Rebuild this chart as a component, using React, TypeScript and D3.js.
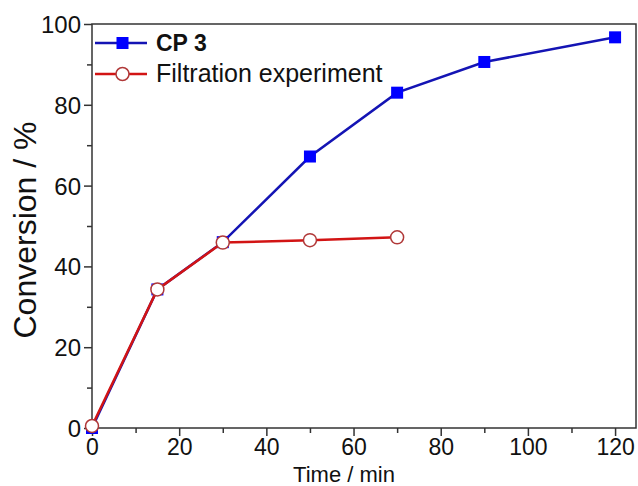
import React, { useEffect, useRef } from 'react';
import * as d3 from 'd3';

const times = [0, 15, 30, 50, 70, 90, 120];
const cp3 = [0, 34.3, 46, 67.2, 83, 90.6, 96.7];
const filtrationTimes = [0, 15, 30, 50, 70];
const filtration = [0.5, 34.3, 45.9, 46.5, 47.2];
const xTicks = [0, 20, 40, 60, 80, 100, 120];
const yTicks = [0, 20, 40, 60, 80, 100];

const W = 638, H = 486;
const m = { top: 24, right: 2, bottom: 58, left: 92 };
const font = 'Arial, "Liberation Sans", sans-serif';

const App = () => {
    const ref = useRef<SVGSVGElement>(null);

    useEffect(() => {
        const svg = d3.select(ref.current);
        svg.selectAll('*').remove();

        const x = d3.scaleLinear().domain([0, 124.8]).range([m.left, W - m.right]);
        const y = d3.scaleLinear().domain([0, 100]).range([H - m.bottom, m.top]);

        // frame
        svg.append('rect')
            .attr('x', x(0)).attr('y', y(100))
            .attr('width', x(124.8) - x(0)).attr('height', y(0) - y(100))
            .attr('fill', 'none').attr('stroke', '#333').attr('stroke-width', 1.5);

        const xAxis = svg.append('g')
            .attr('transform', `translate(0,${y(0)})`)
            .call(d3.axisBottom(x).tickValues(d3.range(0, 121, 10)).tickSize(8).tickSizeOuter(0)
                .tickFormat(d => (xTicks.includes(+d) ? String(d) : '')));
        xAxis.selectAll('.tick line').attr('y2', (d: any) => (xTicks.includes(d) ? 8 : 5));
        const yAxis = svg.append('g')
            .attr('transform', `translate(${x(0)},0)`)
            .call(d3.axisLeft(y).tickValues(d3.range(0, 101, 10)).tickSize(8).tickSizeOuter(0)
                .tickFormat(d => (yTicks.includes(+d) ? String(d) : '')));
        yAxis.selectAll('.tick line').attr('x2', (d: any) => (yTicks.includes(d) ? -8 : -5));

        [xAxis, yAxis].forEach(g => {
            g.select('.domain').remove();
            g.selectAll('.tick line').attr('stroke', '#333').attr('stroke-width', 1.5);
            g.selectAll('text').attr('font-family', font).attr('font-size', 24).attr('fill', '#111');
        });
        xAxis.selectAll('text').attr('dy', '0.71em').attr('y', 11).attr('font-size', 23);
        yAxis.selectAll('text').attr('dy', '0.35em').attr('x', -11);

        svg.append('text')
            .attr('x', 344).attr('y', 482)
            .attr('text-anchor', 'middle')
            .attr('font-family', font).attr('font-size', 22).attr('fill', '#111')
            .text('Time / min');
        svg.append('text')
            .attr('transform', `translate(36,${(y(0) + y(100)) / 2 + 4}) rotate(-90)`)
            .attr('text-anchor', 'middle')
            .attr('font-family', font).attr('font-size', 32).attr('fill', '#111')
            .text('Conversion / %');

        const line = d3.line<[number, number]>().x(d => x(d[0])).y(d => y(d[1]));
        const cpData: [number, number][] = times.map((t, i) => [t, cp3[i]]);
        const fData: [number, number][] = filtrationTimes.map((t, i) => [t, filtration[i]]);

        svg.append('path').datum(cpData).attr('d', line)
            .attr('fill', 'none').attr('stroke', '#1414b4').attr('stroke-width', 2.5);
        svg.selectAll('.sq').data(cpData).enter().append('rect')
            .attr('x', d => x(d[0]) - 6).attr('y', d => y(d[1]) - 6)
            .attr('width', 12).attr('height', 12).attr('fill', '#0000ff');

        svg.append('path').datum(fData).attr('d', line)
            .attr('fill', 'none').attr('stroke', '#d21414').attr('stroke-width', 2.5);
        svg.selectAll('.ci').data(fData).enter().append('circle')
            .attr('cx', d => x(d[0])).attr('cy', d => y(d[1])).attr('r', 6.5)
            .attr('fill', '#fff').attr('stroke', '#b03838').attr('stroke-width', 1.5);

        // legend
        const lg = svg.append('g');
        lg.append('line').attr('x1', 95).attr('x2', 147).attr('y1', 43).attr('y2', 43)
            .attr('stroke', '#1414b4').attr('stroke-width', 2.5);
        lg.append('rect').attr('x', 116.5).attr('y', 37).attr('width', 12).attr('height', 12).attr('fill', '#0000ff');
        lg.append('text').attr('x', 156).attr('y', 50.5)
            .attr('font-family', font).attr('font-size', 23).attr('font-weight', 'bold').attr('fill', '#111')
            .text('CP 3');
        lg.append('line').attr('x1', 95).attr('x2', 147).attr('y1', 74).attr('y2', 74)
            .attr('stroke', '#d21414').attr('stroke-width', 2.5);
        lg.append('circle').attr('cx', 122.5).attr('cy', 74).attr('r', 6.5)
            .attr('fill', '#fff').attr('stroke', '#b03838').attr('stroke-width', 1.5);
        lg.append('text').attr('x', 156).attr('y', 81.5)
            .attr('font-family', font).attr('font-size', 25).attr('fill', '#111')
            .text('Filtration experiment');
    }, []);

    return (
        <svg ref={ref} width={W} height={H} style={{ position: 'absolute', left: 0, top: 0, background: '#fff' }}></svg>
    );
};

export default App;
